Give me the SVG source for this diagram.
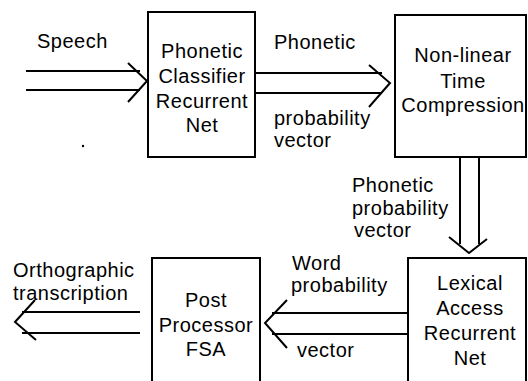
<svg xmlns="http://www.w3.org/2000/svg" width="528" height="381" viewBox="0 0 528 381">
<style>
.box{fill:#fff;stroke:#000;stroke-width:2}
.ln{fill:none;stroke:#000;stroke-width:2;stroke-linecap:butt}
.hd{fill:none;stroke:#000;stroke-width:2;stroke-linejoin:miter}
text{font-family:"Liberation Sans",Arial,sans-serif;font-size:20px;letter-spacing:0.5px;fill:#000}
.c{text-anchor:middle}
</style>
<rect width="528" height="381" fill="#fff"/>
<g id="connectors">
<g id="speech-in">
<line class="ln" x1="26" y1="71" x2="140" y2="71"/>
<line class="ln" x1="26" y1="90" x2="140" y2="90"/>
<polyline class="hd" points="128,63 147,81 128,102"/>
</g>
<g id="c1-c2">
<line class="ln" x1="256" y1="73" x2="382" y2="73"/>
<line class="ln" x1="256" y1="93" x2="382" y2="93"/>
<polyline class="hd" points="369,65 390,83 369,107"/>
</g>
<g id="c2-c4">
<line class="ln" x1="460" y1="157" x2="460" y2="244"/>
<line class="ln" x1="479" y1="157" x2="479" y2="244"/>
<polyline class="hd" points="449,237 469,253 487,239"/>
</g>
<g id="c4-c3">
<line class="ln" x1="408" y1="313" x2="272" y2="313"/>
<line class="ln" x1="408" y1="334" x2="272" y2="334"/>
<polyline class="hd" points="287,300 265,323 287,348"/>
</g>
<g id="c3-out">
<line class="ln" x1="140" y1="312" x2="22" y2="312"/>
<line class="ln" x1="140" y1="333" x2="22" y2="333"/>
<polyline class="hd" points="35,300 15,322 36,340"/>
</g>
</g>
<g id="labels">
<text x="37" y="48">Speech</text>
<text x="274" y="49">Phonetic</text>
<text x="274" y="125">probability</text>
<text x="274" y="147">vector</text>
<text x="352" y="192">Phonetic</text>
<text x="352" y="215">probability</text>
<text x="354" y="237">vector</text>
<text x="292" y="270">Word</text>
<text x="291" y="292">probability</text>
<text x="297" y="357">vector</text>
<text x="13" y="277">Orthographic</text>
<text x="13" y="300">transcription</text>
</g>
<g id="phonetic-classifier">
<rect class="box" x="148" y="12" width="107" height="145"/>
<text class="c" x="202" y="58">Phonetic</text>
<text class="c" x="202" y="83">Classifier</text>
<text class="c" x="202" y="108">Recurrent</text>
<text class="c" x="202" y="132">Net</text>
</g>
<g id="time-compression">
<rect class="box" x="395" y="15" width="131" height="142"/>
<text class="c" x="463" y="62">Non-linear</text>
<text class="c" x="463" y="88">Time</text>
<text class="c" x="463" y="112">Compression</text>
</g>
<g id="lexical-access">
<rect class="box" x="408" y="258" width="118" height="135"/>
<text class="c" x="470" y="290">Lexical</text>
<text class="c" x="470" y="315">Access</text>
<text class="c" x="470" y="340">Recurrent</text>
<text class="c" x="470" y="365">Net</text>
</g>
<g id="post-processor">
<rect class="box" x="152" y="258" width="108" height="135"/>
<text class="c" x="206" y="307">Post</text>
<text class="c" x="206" y="332">Processor</text>
<text class="c" x="206" y="356">FSA</text>
</g>
<circle cx="83" cy="146" r="1.2" fill="#000"/>
</svg>
